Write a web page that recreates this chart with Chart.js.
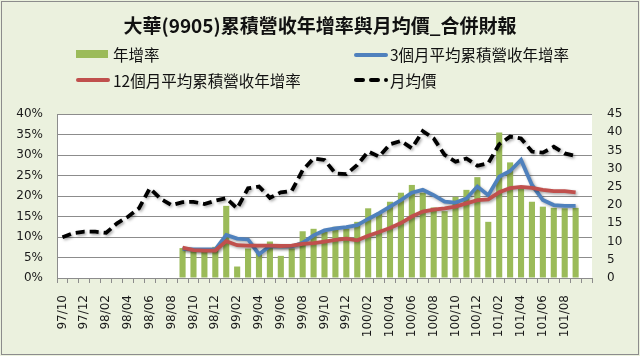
<!DOCTYPE html>
<html>
<head>
<meta charset="utf-8">
<script src="https://cdn.jsdelivr.net/npm/chart.js@4.4.1/dist/chart.umd.min.js"></script>
<style>
  html, body { margin: 0; padding: 0; background: #ebf1de; }
  #wrap { position: relative; width: 640px; height: 356px; overflow: hidden; }
  canvas { position: absolute; left: 0; top: 0; }
  .t { position: absolute; font-family: "Noto Sans CJK TC", "Noto Sans", sans-serif; color: #111; white-space: nowrap; }
  #title { left: 0; width: 640px; top: 12px; text-align: center; font-size: 19px; font-weight: bold; line-height: 26px; }
  .lg { font-size: 15.5px; line-height: 20px; }
  .sw { position: absolute; }
</style>
</head>
<body>
<div id="wrap">
  <canvas id="c" width="640" height="356"></canvas>
  <div id="title" class="t">大華(9905)累積營收年增率與月均價_合併財報</div>
  <div class="sw" style="left:76px;top:50px;width:32px;height:8px;background:#9bbb59;"></div>
  <div class="t lg" style="left:113px;top:44px;">年增率</div>
  <div class="sw" style="left:354px;top:53px;width:34px;height:4px;border-radius:2px;background:#4f81bd;"></div>
  <div class="t lg" style="left:390px;top:44px;">3個月平均累積營收年增率</div>
  <div class="sw" style="left:76px;top:78px;width:34px;height:4px;border-radius:2px;background:#c0504d;"></div>
  <div class="t lg" style="left:113px;top:70px;">12個月平均累積營收年增率</div>
  <div class="sw" style="left:354px;top:78px;width:11px;height:4px;border-radius:2px;background:#000;"></div>
  <div class="sw" style="left:369px;top:78px;width:11px;height:4px;border-radius:2px;background:#000;"></div>
  <div class="sw" style="left:384px;top:78px;width:4px;height:4px;border-radius:2px;background:#000;"></div>
  <div class="t lg" style="left:390px;top:70px;">月均價</div>
</div>
<script>
const months = ['97/10','97/11','97/12','98/01','98/02','98/03','98/04','98/05','98/06','98/07','98/08','98/09',
  '98/10','98/11','98/12','99/01','99/02','99/03','99/04','99/05','99/06','99/07','99/08','99/09',
  '99/10','99/11','99/12','100/01','100/02','100/03','100/04','100/05','100/06','100/07','100/08','100/09',
  '100/10','100/11','100/12','101/01','101/02','101/03','101/04','101/05','101/06','101/07','101/08','101/09',''];

const yoyGrowth = [null,null,null,null,null,null,null,null,null,null,null,7.3,
  6.5,6.4,7.6,17.6,2.8,7.2,6.0,8.9,5.4,7.2,11.4,12.0,
  11.3,12.5,12.1,13.7,17.0,15.9,18.6,20.8,22.7,20.8,17.2,16.3,
  19.8,21.5,24.6,13.7,35.5,28.2,21.9,18.6,17.4,17.1,17.0,17.1,null];

const avg3m = [null,null,null,null,null,null,null,null,null,null,null,7.1,
  7.0,7.0,7.0,10.5,9.6,9.4,5.8,7.8,7.7,7.7,8.6,10.4,
  11.6,12.1,12.4,12.9,14.4,15.8,17.4,19.0,20.8,21.5,20.2,18.6,
  18.4,19.4,22.3,20.2,24.7,26.1,28.8,22.7,19.0,17.8,17.6,17.6,null];

const avg12m = [null,null,null,null,null,null,null,null,null,null,null,7.4,
  6.8,6.7,6.7,9.0,8.0,7.9,7.9,7.9,7.8,7.9,8.3,8.5,
  8.9,9.3,9.6,9.2,10.3,11.2,12.2,13.4,15.0,16.2,16.7,17.0,
  17.4,18.2,19.0,19.2,20.9,21.9,22.2,22.0,21.5,21.2,21.2,20.9,null];

const monthlyPrice = [11.2,12.3,12.7,12.7,12.4,15.0,16.8,19.1,24.6,21.7,20.0,20.8,
  20.9,20.3,21.2,21.9,19.1,24.6,25.1,22.0,23.5,23.9,29.6,32.8,
  32.4,28.7,28.5,31.0,34.7,33.3,36.7,37.6,35.6,40.3,38.3,33.8,
  31.9,32.8,30.8,31.5,36.7,38.8,38.3,34.7,34.4,36.0,34.2,33.5,null];

const pctTicks = [0,5,10,15,20,25,30,35,40];
const priceTicks = [0,5,10,15,20,25,30,35,40,45];

const bgPlugin = {
  id: 'bg',
  beforeDraw(chart) {
    const ctx = chart.ctx, a = chart.chartArea;
    ctx.save();
    ctx.fillStyle = '#ebf1de';
    ctx.fillRect(0, 0, chart.width, chart.height);
    ctx.fillStyle = '#ffffff';
    ctx.fillRect(a.left, a.top, a.right - a.left, a.bottom - a.top);
    ctx.restore();
  },
  afterDraw(chart) {
    const ctx = chart.ctx;
    ctx.save();
    ctx.strokeStyle = '#8c8c8c';
    ctx.lineWidth = 1;
    ctx.strokeRect(1.5, 1.5, chart.width - 3, chart.height - 3);
    ctx.restore();
  }
};

const shadowPlugin = {
  id: 'shadow',
  beforeDatasetDraw(chart, args) {
    const ctx = chart.ctx;
    ctx.save();
    if (args.meta.type === 'line') {
      ctx.shadowColor = 'rgba(0,0,0,0.35)';
      ctx.shadowBlur = 3;
      ctx.shadowOffsetX = 1.5;
      ctx.shadowOffsetY = 1.5;
    }
  },
  afterDatasetDraw(chart) {
    chart.ctx.restore();
  }
};

const tickFont = { family: 'DejaVu Sans', size: 12 };

new Chart(document.getElementById('c'), {
  type: 'bar',
  data: {
    labels: months,
    datasets: [
      { type: 'line', label: '月均價', data: monthlyPrice, yAxisID: 'yR', borderColor: '#000000', borderWidth: 3.8,
        borderDash: [9, 5], pointRadius: 0, tension: 0, order: 0, spanGaps: false },
      { type: 'line', label: '12個月平均累積營收年增率', data: avg12m, yAxisID: 'yL', borderColor: '#c0504d', borderWidth: 3.8,
        pointRadius: 0, tension: 0, order: 1 },
      { type: 'line', label: '3個月平均累積營收年增率', data: avg3m, yAxisID: 'yL', borderColor: '#4f81bd', borderWidth: 3.8,
        pointRadius: 0, tension: 0, order: 2 },
      { type: 'bar', label: '年增率', data: yoyGrowth, yAxisID: 'yL', backgroundColor: '#9bbb59',
        barPercentage: 0.56, categoryPercentage: 1.0, order: 3 }
    ]
  },
  options: {
    responsive: false,
    devicePixelRatio: 1,
    animation: false,
    layout: { padding: { top: 114, left: 0, right: 0, bottom: 0 } },
    plugins: { legend: { display: false }, title: { display: false }, tooltip: { enabled: false } },
    scales: {
      x: {
        offset: true,
        grid: { display: true, drawOnChartArea: false, drawTicks: true, tickLength: 5, color: '#8c8c8c', offset: true },
        border: { display: true, color: '#8c8c8c' },
        ticks: {
          autoSkip: false, minRotation: 90, maxRotation: 90, padding: 12, color: '#1a1a1a', font: tickFont,
          callback: function(v, i) { return i % 2 === 0 ? months[i] : ''; }
        },
        afterFit(s) { s.height = 78; }
      },
      yL: {
        position: 'left', min: 0, max: 40,
        afterBuildTicks(s) { s.ticks = pctTicks.map(v => ({ value: v })); },
        grid: { color: '#8c8c8c', drawTicks: false },
        border: { display: true, color: '#8c8c8c' },
        ticks: { padding: 14, color: '#1a1a1a', font: tickFont, callback: v => v + '%' },
        afterFit(s) { s.width = 57; }
      },
      yR: {
        position: 'right', min: 0, max: 45,
        afterBuildTicks(s) { s.ticks = priceTicks.map(v => ({ value: v })); },
        grid: { display: false, drawTicks: false },
        border: { display: false },
        ticks: { padding: 15, color: '#1a1a1a', font: tickFont },
        afterFit(s) { s.width = 48; }
      }
    }
  },
  plugins: [bgPlugin, shadowPlugin]
});
</script>
</body>
</html>
